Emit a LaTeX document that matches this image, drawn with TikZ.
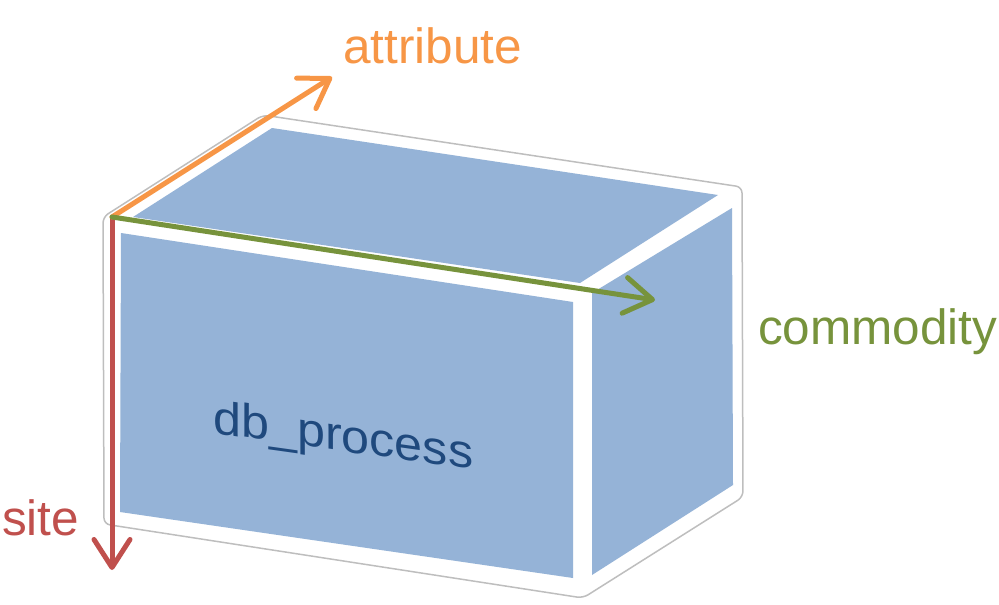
\documentclass[tikz,border=0pt]{standalone}
\usepackage{fontspec}
\setmainfont{Liberation Sans}
\usetikzlibrary{arrows.meta}
\definecolor{boxblue}{RGB}{149,179,215}
\definecolor{outlinegray}{RGB}{190,190,190}
\definecolor{siteRed}{RGB}{192,80,77}
\definecolor{attrOrange}{RGB}{247,150,70}
\definecolor{commGreen}{RGB}{119,147,60}
\definecolor{textBlue}{RGB}{31,73,125}
\tikzset{
  face/.style={fill=boxblue,draw=none},
  axis/.style={line width=5pt,line cap=round,-{Straight Barb[length=28pt,width=36pt,round]}},
  lbl/.style={inner sep=0pt,font=\fontsize{49.5}{52}\selectfont}
}
\begin{document}
\begin{tikzpicture}[x=1pt,y=-1pt]
\useasboundingbox (0,0) rectangle (999,605);
% outline
\draw[outlinegray,line width=1.5pt,fill=white,rounded corners=6pt]
  (103,217) -- (263,115) -- (742,187) -- (743,497) -- (583,598) -- (104,524) -- cycle;
% faces
\fill[face] (121,233) -- (573,302) -- (573,578) -- (120,512) -- cycle;
\fill[face] (133,217) -- (272,128) -- (718,195) -- (580,283) -- cycle;
\fill[face] (732,208) -- (592,293) -- (592,575) -- (733,485) -- cycle;
% label in box
\node[lbl,anchor=base west,xscale=1.07,yslant=-0.15,text=textBlue,font=\fontsize{47}{50}\selectfont] (db) at (213,433) {db\_process};
% axes
\coordinate (O) at (112,217);
\coordinate (siteEnd) at (112,570);
\coordinate (attrEnd) at (332,77);
\coordinate (commEnd) at (655,300);
\draw[axis,siteRed] (O) -- (siteEnd);
\draw[axis,attrOrange] (O) -- (attrEnd);
\draw[axis,commGreen] (O) -- (commEnd);
% labels
\node[lbl,anchor=base west,text=attrOrange] (attr) at (343,63) {attribute};
\node[lbl,anchor=base west,text=commGreen] (comm) at (758,344) {commodity};
\node[lbl,anchor=base west,text=siteRed] (site) at (2,535) {site};
\end{tikzpicture}
\end{document}
